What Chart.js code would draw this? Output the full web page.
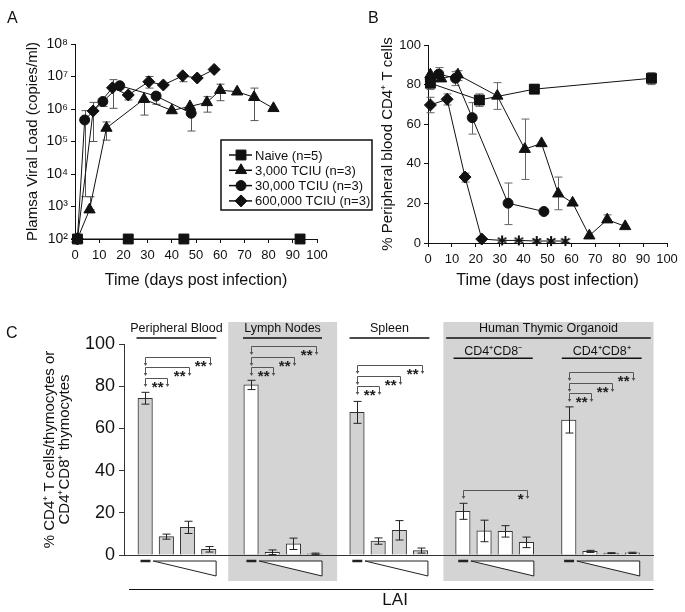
<!DOCTYPE html>
<html>
<head>
<meta charset="utf-8">
<script src="https://cdn.jsdelivr.net/npm/chart.js@4.4.1/dist/chart.umd.min.js"></script>
<style>
  html, body { margin: 0; padding: 0; background: #fff; }
  body { width: 685px; height: 612px; position: relative; overflow: hidden; font-family: 'Liberation Sans', Arial, sans-serif; }
  canvas { position: absolute; }
  .panel { position: absolute; font-size: 16px; line-height: 1; color: #111; }
</style>
</head>
<body>
<canvas id="chartA" style="left:0;top:0" width="380" height="300"></canvas>
<canvas id="chartB" style="left:340px;top:0" width="345" height="300"></canvas>
<canvas id="chartC" style="left:0;top:300px" width="685" height="312"></canvas>
<div class="panel" style="left:7px;top:10px">A</div>
<div class="panel" style="left:368px;top:10px">B</div>
<div class="panel" style="left:6px;top:325px">C</div>
<script>
// ---- A: plasma viral load (copies/ml) by day ----
const naiveDaysA = [1, 22, 45, 93]
const naiveLoadA = [100, 100, 100, 100]

const lowDaysA = [1, 6, 13, 28.5, 40, 47.5, 54.5, 60, 67, 74, 82]
const lowLoadA = [100, 800, 2.6e5, 2.0e6, 9.0e5, 1.2e6, 1.6e6, 3.8e6, 3.4e6, 2.3e6, 1.05e6]
const lowLoA   = [null, 800, 1.1e5, 6.5e5, null, null, 8.0e5, 1.8e6, null, 4.4e5, null]
const lowHiA   = [null, 2.0e3, 4.0e5, 2.0e6, null, null, 2.4e6, 5.8e6, null, 4.4e6, null]

const midDaysA = [1, 4, 11.5, 18.5, 33.5, 48]
const midLoadA = [100, 4.6e5, 1.7e6, 5.2e6, 2.5e6, 7.4e5]
const midLoA   = [null, 2.0e3, 1.2e6, null, 1.4e6, 2.1e5]
const midHiA   = [null, 8.9e5, 2.1e6, null, 3.2e6, 7.4e5]

const highDaysA = [1, 7.5, 15.5, 22, 30.5, 36.5, 44.5, 50.5, 57.5]
const highLoadA = [100, 8.7e5, 4.5e6, 2.7e6, 6.9e6, 5.5e6, 1.05e7, 9.0e6, 1.65e7]
const highLoA   = [null, 1.0e5, 1.05e6, 1.9e6, 4.4e6, null, 6.9e6, null, null]
const highHiA   = [null, 1.6e6, 8.0e6, 2.7e6, 1.0e7, null, 1.05e7, null, null]

const decadesA = [1e2, 1e3, 1e4, 1e5, 1e6, 1e7, 1e8]

// ---- B: % CD4+ T cells in peripheral blood by day ----
const naiveDaysB = [1, 21.5, 44.5, 93.5]
const naiveCd4B  = [80.7, 72.2, 77.7, 83.2]
const naiveLoB   = [77.5, 69, 75.5, 80]
const naiveHiB   = [84, 75.3, 80, 86]

const lowDaysB = [1, 5.5, 12.5, 29, 40.5, 47.5, 54.5, 60.5, 67.5, 75, 82.5]
const lowCd4B  = [85, 83, 85, 74.3, 47.4, 50.3, 24.9, 20.3, 3.7, 11.8, 8.4]
const lowLoB   = [null, null, 82, 67.5, 32.1, null, 16.8, null, null, 11.8, null]
const lowHiB   = [null, null, 87, 81, 62.6, null, 33.3, null, null, 14.2, null]

const midDaysB = [1, 4.5, 11.5, 18.5, 33.5, 48.5]
const midCd4B  = [82.5, 85.3, 83.2, 63.3, 20.1, 15.9]
const midLoB   = [null, 82, 79.5, 55, 9.3, null]
const midHiB   = [null, 88.6, 86.5, 70.9, 30.3, null]

const highDaysB = [1, 8, 15.5, 22.5, 31, 38, 45.5, 51.5, 57.5]
const highCd4B  = [69.7, 72.6, 33.3, 2.0, 1.3, 1.3, 1.0, 1.0, 1.0]
const highLoB   = [65.8, 69.7, 30.8, null, null, null, null, null, null]
const highHiB   = [73.6, 75.3, 35.3, null, null, null, null, null, null]

// ---- C: bars, 4 per tissue (uninfected, then increasing LAI dose) ----
const pbMean     = [74.3, 8.7, 13.1, 2.7]
const pbErr      = [2.8, 1.2, 2.9, 1.3]
const lnMean     = [80.6, 1.3, 5.3, 0.6]
const lnErr      = [2.2, 1.1, 2.7, 0.3]
const spleenMean = [67.6, 6.6, 11.7, 2.1]
const spleenErr  = [5.2, 1.5, 4.6, 1.2]
const thyNegMean = [20.7, 11.4, 11.2, 6.0]
const thyNegErr  = [3.8, 5.1, 2.7, 2.5]
const thyPosMean = [64.0, 1.7, 0.9, 1.0]
const thyPosErr  = [6.2, 0.5, 0.2, 0.3]
const groupFill  = ['#d2d2d2', '#ffffff', '#d2d2d2', '#ffffff', '#ffffff']

// significance brackets: from bar slot, to bar slot, level (%), mark
const bracketFrom  = [0, 0, 0, 5, 5, 5, 10, 10, 10, 15, 20, 20, 20]
const bracketTo    = [3, 2, 1, 8, 7, 6, 13, 12, 11, 18, 23, 22, 21]
const bracketLevel = [94, 89, 84, 99, 94, 89, 90, 85, 80, 30.7, 86.6, 81.7, 76.6]
const bracketMark  = ['**', '**', '**', '**', '**', '**', '**', '**', '**', '*', '**', '**', '**']

const headerText = ['Peripheral Blood', 'Lymph Nodes', 'Spleen', 'Human Thymic Organoid', 'CD4⁺CD8⁻', 'CD4⁺CD8⁺']
const headerFrom = [-0.41, 4.62, 9.65, 14.21, 14.56, 19.67]
const headerTo   = [3.36, 8.35, 13.42, 23.87, 18.3, 23.44]
const headerRow  = [0, 0, 0, 0, 1, 1]

const shadeFrom = [3.92, 14.08]
const shadeTo   = [9.06, 24]

const FONT = "'Liberation Sans', Arial, sans-serif"
Chart.defaults.font.family = FONT
Chart.defaults.color = '#111'

const SUP = '⁰¹²³⁴⁵⁶⁷⁸⁹'
const sup = v => String(Math.round(Math.log10(v))).split('').map(d => SUP[d]).join('')
const pts = (xs, ys) => xs.map((x, i) => ({ x, y: ys[i] }))

function asteriskMark() {
  const c = document.createElement('canvas')
  c.width = 12; c.height = 12
  const g = c.getContext('2d')
  g.strokeStyle = '#111'; g.lineWidth = 2
  for (let k = 0; k < 3; k++) {
    const a = Math.PI / 2 + k * Math.PI / 3
    g.beginPath()
    g.moveTo(6 + 5 * Math.cos(a), 6 + 5 * Math.sin(a))
    g.lineTo(6 - 5 * Math.cos(a), 6 - 5 * Math.sin(a))
    g.stroke()
  }
  return c
}
const star = asteriskMark()

function series(label, xs, ys, lo, hi, style, radius) {
  return {
    label, data: pts(xs, ys), errLo: lo, errHi: hi,
    borderColor: '#111', borderWidth: 1, backgroundColor: '#111',
    pointStyle: style, pointRadius: radius, pointBorderWidth: 1,
    pointBackgroundColor: '#111', pointBorderColor: '#111',
    clip: false, tension: 0
  }
}

function axisBase(size) {
  return {
    border: { display: true, color: '#111', width: 1 },
    grid: { display: true, drawOnChartArea: false, drawTicks: true, tickLength: 4, color: '#111' },
    ticks: { color: '#111', font: { size }, padding: 3, maxRotation: 0, autoSkip: false }
  }
}

function timeAxis(height) {
  return {
    ...axisBase(13),
    type: 'linear', min: 0, max: 100,
    ticks: { ...axisBase(13).ticks, stepSize: 10, padding: 5 },
    title: { display: true, text: 'Time (days post infection)', font: { size: 16 }, padding: { top: 0, bottom: 10 }, color: '#111' },
    afterFit: s => { s.height = height }
  }
}

const errorBars = {
  id: 'errorBars',
  beforeDatasetsDraw(chart, args, opts) {
    const { ctx, scales: { x, y } } = chart
    ctx.save()
    ctx.strokeStyle = opts.color
    ctx.lineWidth = 1
    chart.data.datasets.forEach(ds => {
      if (!ds.errLo) return
      ds.data.forEach((p, i) => {
        const lo = ds.errLo[i], hi = ds.errHi[i]
        if (lo == null) return
        const px = Math.round(x.getPixelForValue(p.x)) + 0.5
        const y1 = y.getPixelForValue(lo), y2 = y.getPixelForValue(hi)
        ctx.beginPath()
        ctx.moveTo(px, y1); ctx.lineTo(px, y2)
        ctx.moveTo(px - 4, y1); ctx.lineTo(px + 4, y1)
        ctx.moveTo(px - 4, y2); ctx.lineTo(px + 4, y2)
        ctx.stroke()
      })
    })
    ctx.restore()
  }
}

const legendBox = {
  id: 'legendBox',
  afterDraw(chart) {
    const { ctx } = chart
    const left = 221, top = 140, w = 151, h = 70
    ctx.save()
    ctx.fillStyle = '#fff'
    ctx.fillRect(left, top, w, h)
    ctx.strokeStyle = '#111'; ctx.lineWidth = 1.5
    ctx.strokeRect(left, top, w, h)
    ctx.font = `13px ${FONT}`
    ctx.textBaseline = 'middle'
    chart.data.datasets.forEach((ds, i) => {
      const cy = top + 15 + i * 15.3
      ctx.strokeStyle = '#111'; ctx.fillStyle = '#111'; ctx.lineWidth = 1.5
      ctx.beginPath(); ctx.moveTo(left + 8, cy); ctx.lineTo(left + 31, cy); ctx.stroke()
      ctx.lineWidth = 1
      Chart.helpers.drawPoint(ctx, { pointStyle: ds.pointStyle, radius: ds.pointRadius, borderWidth: 1, rotation: 0 }, left + 20, cy)
      ctx.fillText(ds.label, left + 34, cy + 1)
    })
    ctx.restore()
  }
}

new Chart(document.getElementById('chartA'), {
  type: 'line',
  data: {
    datasets: [
      series('Naive (n=5)', naiveDaysA, naiveLoadA, null, null, 'rect', 7),
      series('3,000 TCIU (n=3)', lowDaysA, lowLoadA, lowLoA, lowHiA, 'triangle', 6.5),
      series('30,000 TCIU (n=3)', midDaysA, midLoadA, midLoA, midHiA, 'circle', 5),
      series('600,000 TCIU (n=3)', highDaysA, highLoadA, highLoA, highHiA, 'rectRot', 6)
    ]
  },
  options: {
    responsive: false, animation: false,
    layout: { padding: { left: 0, right: 63, top: 44, bottom: 0 } },
    plugins: { legend: { display: false }, tooltip: { enabled: false }, errorBars: { color: '#555' } },
    scales: {
      x: timeAxis(61),
      y: {
        ...axisBase(14),
        type: 'logarithmic', min: 100, max: 1e8,
        afterBuildTicks: s => { s.ticks = decadesA.map(v => ({ value: v })) },
        ticks: { ...axisBase(14).ticks, callback: v => '10' + sup(v) },
        title: { display: true, text: 'Plamsa Viral Load (copies/ml)', font: { size: 15 }, padding: { top: 24, bottom: 0 }, color: '#111' },
        afterFit: s => { s.width = 75 }
      }
    }
  },
  plugins: [errorBars, legendBox]
})

new Chart(document.getElementById('chartB'), {
  type: 'line',
  data: {
    datasets: [
      series('Naive (n=5)', naiveDaysB, naiveCd4B, naiveLoB, naiveHiB, 'rect', 7),
      series('3,000 TCIU (n=3)', lowDaysB, lowCd4B, lowLoB, lowHiB, 'triangle', 6.5),
      series('30,000 TCIU (n=3)', midDaysB, midCd4B, midLoB, midHiB, 'circle', 5),
      {
        ...series('600,000 TCIU (n=3)', highDaysB, highCd4B, highLoB, highHiB, 'rectRot', 6),
        pointStyle: highDaysB.map((d, i) => i < 4 ? 'rectRot' : star)
      }
    ]
  },
  options: {
    responsive: false, animation: false,
    layout: { padding: { left: 0, right: 18, top: 45, bottom: 0 } },
    plugins: { legend: { display: false }, tooltip: { enabled: false }, errorBars: { color: '#666' } },
    scales: {
      x: timeAxis(57),
      y: {
        ...axisBase(13),
        min: 0, max: 100,
        ticks: { ...axisBase(13).ticks, stepSize: 20 },
        title: { display: true, text: '% Peripheral blood CD4⁺ T cells', font: { size: 15 }, padding: { top: 39, bottom: 0 }, color: '#111' },
        afterFit: s => { s.width = 88 }
      }
    }
  },
  plugins: [errorBars]
})

// ---- C ----
const barMeans = [pbMean, lnMean, spleenMean, thyNegMean, thyPosMean]
const barErrs  = [pbErr, lnErr, spleenErr, thyNegErr, thyPosErr]
const barData = [], barColors = [], barErrFlat = []
barMeans.forEach((m, g) => m.forEach((v, k) => {
  barData.push({ x: g * 5 + k, y: v })
  barColors.push(groupFill[g])
  barErrFlat.push(barErrs[g][k])
}))

const panelC = {
  id: 'panelC',
  beforeDraw(chart) {
    const { ctx, chartArea: a, scales: { x } } = chart
    ctx.save()
    ctx.fillStyle = '#d4d4d4'
    shadeFrom.forEach((f, i) => {
      const x1 = x.getPixelForValue(f), x2 = x.getPixelForValue(shadeTo[i])
      ctx.fillRect(x1, a.top - 22, x2 - x1, a.bottom + 26 - (a.top - 22))
    })
    ctx.restore()
  },
  afterDatasetsDraw(chart) {
    const { ctx, scales: { x, y } } = chart
    ctx.save()
    ctx.strokeStyle = '#222'; ctx.lineWidth = 1
    barData.forEach((p, i) => {
      const px = Math.round(x.getPixelForValue(p.x)) + 0.5
      const y1 = y.getPixelForValue(p.y - barErrFlat[i]), y2 = y.getPixelForValue(p.y + barErrFlat[i])
      ctx.beginPath()
      ctx.moveTo(px, y1); ctx.lineTo(px, y2)
      ctx.moveTo(px - 4, y1); ctx.lineTo(px + 4, y1)
      ctx.moveTo(px - 4, y2); ctx.lineTo(px + 4, y2)
      ctx.stroke()
    })
    ctx.restore()
  },
  afterDraw(chart) {
    const { ctx, chartArea: a, scales: { x, y } } = chart
    ctx.save()
    // tissue headers
    ctx.fillStyle = '#111'; ctx.strokeStyle = '#111'
    ctx.font = `12.5px ${FONT}`
    ctx.textAlign = 'center'; ctx.textBaseline = 'middle'
    headerText.forEach((t, i) => {
      const x1 = x.getPixelForValue(headerFrom[i]), x2 = x.getPixelForValue(headerTo[i])
      const ty = headerRow[i] ? a.top + 7.7 : a.top - 15
      const ly = headerRow[i] ? a.top + 14.3 : a.top - 6
      ctx.fillText(t, (x1 + x2) / 2, ty)
      ctx.lineWidth = 1.5
      ctx.beginPath(); ctx.moveTo(x1, ly); ctx.lineTo(x2, ly); ctx.stroke()
    })
    // significance brackets
    ctx.strokeStyle = '#555'; ctx.fillStyle = '#555'; ctx.lineWidth = 1
    ctx.font = `bold 15px ${FONT}`
    ctx.textAlign = 'right'; ctx.textBaseline = 'alphabetic'
    bracketFrom.forEach((f, i) => {
      const xl = Math.round(x.getPixelForValue(f)) + 0.5
      const xr = Math.round(x.getPixelForValue(bracketTo[i]) + 1) + 0.5
      const yb = Math.round(y.getPixelForValue(bracketLevel[i])) + 0.5
      ctx.beginPath()
      ctx.moveTo(xl, yb + 6); ctx.lineTo(xl, yb); ctx.lineTo(xr, yb); ctx.lineTo(xr, yb + 6)
      ctx.stroke()
      ;[xl, xr].forEach(ax => {
        ctx.beginPath()
        ctx.moveTo(ax - 1.8, yb + 5.5); ctx.lineTo(ax + 1.8, yb + 5.5); ctx.lineTo(ax, yb + 8.5)
        ctx.closePath(); ctx.fill()
      })
      ctx.fillStyle = '#222'
      ctx.fillText(bracketMark[i], xr - 4, yb + 5 + 8.7)
      ctx.fillStyle = '#555'
    })
    // dose indicators: dash for uninfected, wedge for increasing dose
    ctx.strokeStyle = '#222'; ctx.fillStyle = '#fff'
    barMeans.forEach((m, g) => {
      const s0 = g * 5
      ctx.lineWidth = 2.5
      ctx.beginPath()
      ctx.moveTo(x.getPixelForValue(s0 - 0.22), a.bottom + 6); ctx.lineTo(x.getPixelForValue(s0 + 0.25), a.bottom + 6)
      ctx.stroke()
      ctx.lineWidth = 1
      const w1 = x.getPixelForValue(s0 + 0.38), w2 = x.getPixelForValue(s0 + 3.35)
      ctx.beginPath()
      ctx.moveTo(w1, a.bottom + 6); ctx.lineTo(w2, a.bottom + 6); ctx.lineTo(w2, a.bottom + 21)
      ctx.closePath(); ctx.fill(); ctx.stroke()
    })
    // virus label
    ctx.strokeStyle = '#111'; ctx.lineWidth = 1
    ctx.beginPath()
    ctx.moveTo(129, Math.round(a.bottom + 34) + 0.5); ctx.lineTo(x.getPixelForValue(24), Math.round(a.bottom + 34) + 0.5)
    ctx.stroke()
    ctx.fillStyle = '#111'; ctx.font = `17px ${FONT}`; ctx.textAlign = 'center'; ctx.textBaseline = 'middle'
    ctx.fillText('LAI', x.getPixelForValue(11.8), a.bottom + 45)
    ctx.restore()
  }
}

new Chart(document.getElementById('chartC'), {
  type: 'bar',
  data: {
    datasets: [{
      data: barData,
      backgroundColor: barColors,
      borderColor: '#333', borderWidth: 1,
      barThickness: 14.5
    }]
  },
  options: {
    responsive: false, animation: false,
    layout: { padding: { left: 0, right: 31.5, top: 44, bottom: 0 } },
    plugins: { legend: { display: false }, tooltip: { enabled: false } },
    scales: {
      x: {
        type: 'linear', min: -1, max: 24, offset: false,
        ticks: { display: false },
        grid: { display: false, offset: false },
        border: { display: true, color: '#333', width: 1 },
        afterFit: s => { s.height = 57 }
      },
      y: {
        ...axisBase(18),
        min: 0, max: 100,
        grid: { display: true, drawOnChartArea: false, drawTicks: true, tickLength: 5, color: '#333' },
        border: { display: true, color: '#333', width: 1 },
        ticks: { ...axisBase(18).ticks, stepSize: 20, padding: 4 },
        title: { display: true, text: ['% CD4⁺ T cells/thymocytes or', 'CD4⁺CD8⁺ thymocytes'], font: { size: 15, lineHeight: 1 }, padding: { top: 42.5, bottom: 0 }, color: '#111' },
        afterFit: s => { s.width = 124 }
      }
    }
  },
  plugins: [panelC]
})
</script>
</body>
</html>
